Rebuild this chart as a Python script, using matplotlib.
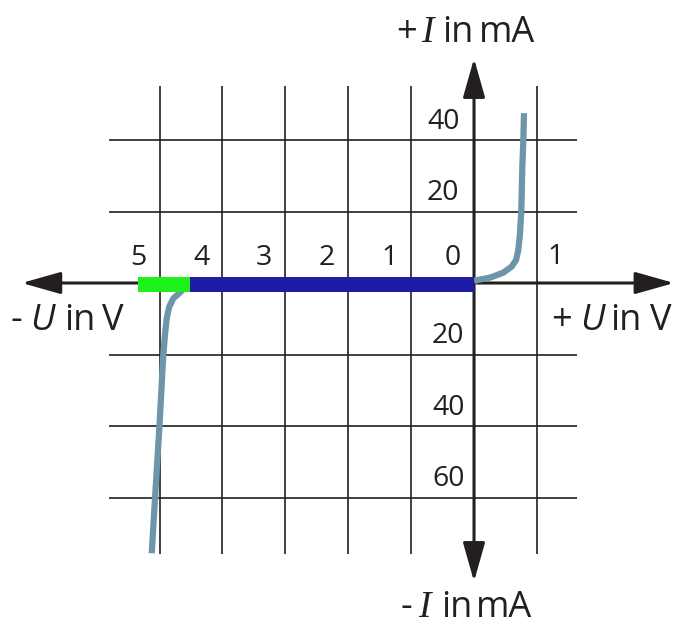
import matplotlib.pyplot as plt

# Kennlinie einer Z-Diode: Durchlassbereich und Sperr-/Durchbruchbereich
u_forward = [0.0, 0.043, 0.254, 0.466, 0.599, 0.668, 0.704, 0.731, 0.752, 0.768, 0.784, 0.795]
i_forward = [0.5, 0.8, 1.5, 2.9, 4.6, 6.4, 9.2, 13.9, 20.4, 32.5, 40.0, 47.5]

u_reverse = [-4.52, -4.60, -4.67, -4.78, -4.845, -4.886, -4.913, -4.94, -5.00, -5.07, -5.124]
i_reverse = [0.0, -1.2, -2.6, -4.3, -6.6, -9.9, -14.5, -20.1, -39.7, -59.8, -75.6]

# Durchbruchbereich (gruen) und Sperrbereich (blau) auf der U-Achse
band_left = [-5.35, -4.515]
band_right = [-4.515, 0.0]
band_colors = ['#1ef01a', '#1e1ca4']

u_grid = [-5, -4, -3, -2, -1, 1]
i_grid = [-60, -40, -20, 20, 40]
u_ticks = [5, 4, 3, 2, 1, 0]
u_tick_pos = [-5, -4, -3, -2, -1, 0]
i_ticks = [40, 20, 20, 40, 60]
i_tick_pos = [40, 20, -20, -40, -60]

ink = '#231f20'
curve_color = '#6e95a8'

fig = plt.figure(figsize=(6.87, 6.30), dpi=100)
ax = fig.add_axes([0, 0, 1, 1])
ax.set_xlim(-7.536, 3.386)
ax.set_ylim(-97.06, 79.16)
ax.axis('off')

# Raster
ax.vlines(u_grid, -75.7, 55.1, color=ink, lw=1.2, zorder=1)
ax.hlines(i_grid, -5.81, 1.64, color=ink, lw=1.2, zorder=1)

# Achsen mit Pfeilspitzen
arrow = dict(arrowstyle='<|-|>,head_length=1.2,head_width=0.34', mutation_scale=20,
             color=ink, lw=2.2, shrinkA=0, shrinkB=0)
ax.annotate('', xy=(3.18, 0), xytext=(-7.19, 0), arrowprops=arrow, zorder=2)
ax.annotate('', xy=(0, 62.8), xytext=(0, -83.5), arrowprops=arrow, zorder=2)

# Kennlinie
ax.plot(u_forward, i_forward, color=curve_color, lw=4.5, solid_capstyle='butt',
        solid_joinstyle='round', zorder=3)
ax.plot(u_reverse, i_reverse, color=curve_color, lw=4.5, solid_capstyle='butt',
        solid_joinstyle='round', zorder=3)

for left, right, c in zip(band_left, band_right, band_colors):
    ax.barh(-0.33, right - left, left=left, height=4.2, color=c, zorder=4)

# Zahlen an den Achsen
tick_font = dict(family='Open Sans', fontsize=20.5, color=ink)
for pos, lab in zip(u_tick_pos, u_ticks):
    ax.text(pos - 0.34, 4.9, str(lab), ha='center', va='baseline', **tick_font)
ax.text(1.30, 5.3, '1', ha='center', va='baseline', **tick_font)
for pos, lab in zip(i_tick_pos, i_ticks):
    dx = -0.23 if pos > 0 else -0.15
    ax.text(dx, pos + 3.1, str(lab), ha='right', va='baseline', **tick_font)

label_font = dict(family='Open Sans', fontsize=26, color=ink, va='baseline', ha='left')
serif_i = dict(family='Liberation Serif', style='italic', fontsize=27, color=ink,
               va='baseline', ha='left')

# +I in mA / -I in mA
ax.text(-1.240, 67.5, '+', **label_font)
ax.text(-0.843, 67.5, 'I', **serif_i)
ax.text(-0.50, 67.5, 'in', **label_font)
ax.text(0.08, 67.5, 'mA', **label_font)

ax.text(-1.176, -93.3, '-', **label_font)
ax.text(-0.890, -93.3, 'I', **serif_i)
ax.text(-0.525, -93.3, 'in', **label_font)
ax.text(0.03, -93.3, 'mA', **label_font)

# -U in V / +U in V
ax.text(-7.377, -13.1, '-', **label_font)
ax.text(-7.059, -13.1, 'U', style='italic', **label_font)
ax.text(-6.52, -13.1, 'in', **label_font)
ax.text(-5.91, -13.1, 'V', **label_font)

ax.text(1.224, -13.1, '+', **label_font)
ax.text(1.685, -13.1, 'U', style='italic', **label_font)
ax.text(2.17, -13.1, 'in', **label_font)
ax.text(2.80, -13.1, 'V', **label_font)

fig.savefig('out.png', dpi=100, facecolor='white')
